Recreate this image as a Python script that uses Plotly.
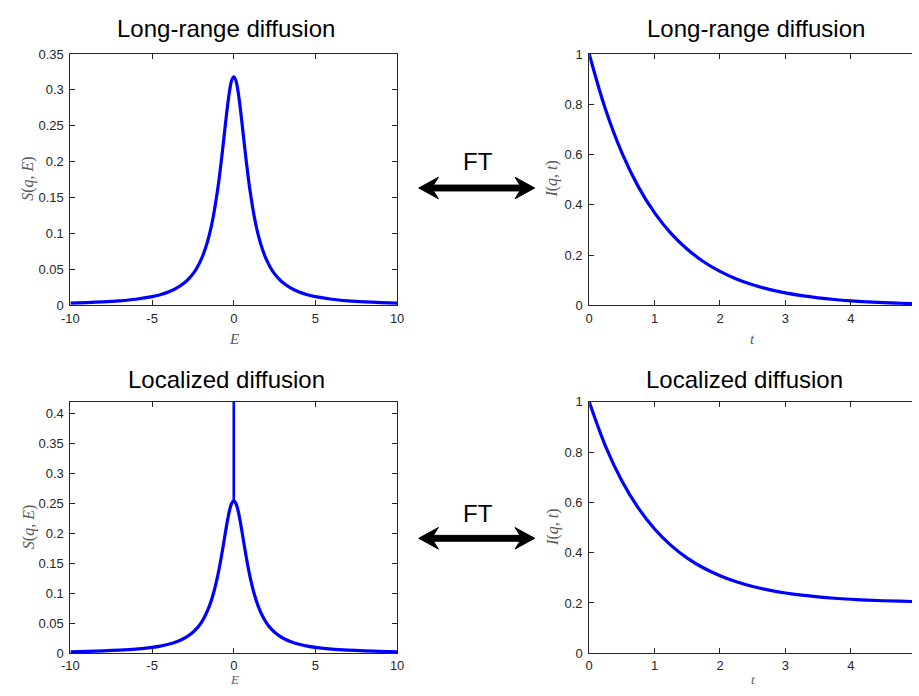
import plotly.graph_objects as go

# ---- data -------------------------------------------------------------
energy = [-10, -9, -8, -7, -6, -5, -4.5, -4, -3.5, -3, -2.75, -2.5, -2.25, -2, -1.75, -1.5,
          -1.25, -1, -0.875, -0.75, -0.625, -0.5, -0.375, -0.25, -0.125, 0,
          0.125, 0.25, 0.375, 0.5, 0.625, 0.75, 0.875, 1, 1.25, 1.5, 1.75, 2, 2.25, 2.5,
          2.75, 3, 3.5, 4, 4.5, 5, 6, 7, 8, 9, 10]

# Long-range diffusion: Lorentzian line shape
s_long = [0.0032, 0.0039, 0.0049, 0.0064, 0.0086, 0.0122, 0.0149, 0.0187, 0.0240, 0.0318,
          0.0372, 0.0439, 0.0525, 0.0637, 0.0784, 0.0979, 0.1242, 0.1592, 0.1802, 0.2037,
          0.2289, 0.2546, 0.2790, 0.2996, 0.3134, 0.3183,
          0.3134, 0.2996, 0.2790, 0.2546, 0.2289, 0.2037, 0.1802, 0.1592, 0.1242, 0.0979,
          0.0784, 0.0637, 0.0525, 0.0439, 0.0372, 0.0318, 0.0240, 0.0187, 0.0149, 0.0122,
          0.0086, 0.0064, 0.0049, 0.0039, 0.0032]

# Localized diffusion: weaker quasi-elastic Lorentzian plus an elastic spike at E = 0
s_local = [0.0025, 0.0031, 0.0039, 0.0051, 0.0069, 0.0098, 0.0119, 0.0150, 0.0192, 0.0255,
           0.0298, 0.0351, 0.0420, 0.0509, 0.0627, 0.0783, 0.0994, 0.1273, 0.1442, 0.1630,
           0.1831, 0.2037, 0.2232, 0.2397, 0.2507, 0.2546,
           0.2507, 0.2397, 0.2232, 0.2037, 0.1831, 0.1630, 0.1442, 0.1273, 0.0994, 0.0783,
           0.0627, 0.0509, 0.0420, 0.0351, 0.0298, 0.0255, 0.0192, 0.0150, 0.0119, 0.0098,
           0.0069, 0.0051, 0.0039, 0.0031, 0.0025]
spike_e = [0, 0]
spike_s = [0.2546, 0.5]

time = [0, 0.25, 0.5, 0.75, 1, 1.25, 1.5, 1.75, 2, 2.25, 2.5, 2.75, 3, 3.25, 3.5, 3.75,
        4, 4.25, 4.5, 4.75, 5]
i_long = [1.0, 0.7788, 0.6065, 0.4724, 0.3679, 0.2865, 0.2231, 0.1738, 0.1353, 0.1054,
          0.0821, 0.0639, 0.0498, 0.0388, 0.0302, 0.0235, 0.0183, 0.0143, 0.0111, 0.0087,
          0.0067]
i_local = [1.0, 0.8230, 0.6852, 0.5779, 0.4943, 0.4292, 0.3785, 0.3390, 0.3083, 0.2843,
           0.2657, 0.2511, 0.2398, 0.2310, 0.2242, 0.2188, 0.2147, 0.2114, 0.2089, 0.2070,
           0.2054]

titles = ["Long-range diffusion", "Long-range diffusion",
          "Localized diffusion", "Localized diffusion"]
e_ticks = [-10, -5, 0, 5, 10]
e_ticktext = ["-10", "-5", "0", "5", "10"]

# ---- layout helpers ---------------------------------------------------
W, H = 919, 696
INK = "#262626"
BLUE = "#0000ff"


def px_x(p):
    return p / W


def px_y(p):
    return 1 - p / H


left_dom = [px_x(62.5), px_x(395)]
right_dom = [px_x(590.5), 1.0]
top_dom = [px_y(305), px_y(48)]
bot_dom = [px_y(660.5), px_y(403.5)]

fig = go.Figure()

line = dict(color=BLUE, width=3.2, shape="spline", smoothing=1.0)

fig.add_trace(go.Scatter(x=energy, y=s_long, mode="lines", line=line,
                         xaxis="x", yaxis="y", showlegend=False))
fig.add_trace(go.Scatter(x=time, y=i_long, mode="lines", line=line,
                         xaxis="x2", yaxis="y2", showlegend=False))
fig.add_trace(go.Scatter(x=energy, y=s_local, mode="lines", line=line,
                         xaxis="x3", yaxis="y3", showlegend=False))
fig.add_trace(go.Scatter(x=spike_e, y=spike_s, mode="lines",
                         line=dict(color=BLUE, width=2.6),
                         xaxis="x3", yaxis="y3", showlegend=False))
fig.add_trace(go.Scatter(x=time, y=i_local, mode="lines", line=line,
                         xaxis="x4", yaxis="y4", showlegend=False))

tickfont = dict(family="Liberation Sans, Arial, sans-serif", size=13, color=INK)
common = dict(showline=True, linecolor=INK, linewidth=1, ticks="inside", ticklen=5,
              tickcolor=INK, tickwidth=1, showgrid=False, zeroline=False,
              tickfont=tickfont)
xtop = dict(ticklabelstandoff=1, **common)
xbot = dict(ticklabelstandoff=0, **common)
ycommon = dict(ticklabelstandoff=3, **common)

r_max = (W - 590.5) / ((856.7 - 590.5) / 4)

fig.update_layout(
    width=W, height=H,
    margin=dict(l=0, r=0, t=0, b=0),
    paper_bgcolor="white", plot_bgcolor="white",
    xaxis=dict(domain=left_dom, anchor="y", range=[-10, 10], tickvals=e_ticks,
               ticktext=e_ticktext, mirror="ticks", **xtop),
    yaxis=dict(domain=top_dom, anchor="x", range=[0, 0.35], dtick=0.05,
               mirror="ticks", **ycommon),
    xaxis2=dict(domain=right_dom, anchor="y2", range=[0, r_max], dtick=1,
                mirror="ticks", **xtop),
    yaxis2=dict(domain=top_dom, anchor="x2", range=[0, 1], dtick=0.2, **ycommon),
    xaxis3=dict(domain=left_dom, anchor="y3", range=[-10, 10], tickvals=e_ticks,
                ticktext=e_ticktext, mirror="ticks", **xbot),
    yaxis3=dict(domain=bot_dom, anchor="x3", range=[0, 0.42], dtick=0.05,
                mirror="ticks", **ycommon),
    xaxis4=dict(domain=right_dom, anchor="y4", range=[0, r_max], dtick=1,
                mirror="ticks", **xbot),
    yaxis4=dict(domain=bot_dom, anchor="x4", range=[0, 1], dtick=0.2, **ycommon),
)

annotations = []
title_font = dict(family="Liberation Sans, Arial, sans-serif", size=24, color="black")
title_pos = [(221, 22), (760, 22), (221, 381), (749, 381)]
for text, (cx, cy) in zip(titles, title_pos):
    annotations.append(dict(text=text, x=px_x(cx), y=px_y(cy), xref="paper", yref="paper",
                            showarrow=False, font=title_font,
                            xanchor="center", yanchor="middle"))

label_font = dict(family="Liberation Serif, Times New Roman, serif", size=16, color="#595959")
s_label = "<i>S</i>(<i>q</i>, <i>E</i>)"
i_label = "<i>I</i>(<i>q</i>, <i>t</i>)"
for text, cx, cy in [(s_label, 20, 176), (i_label, 553, 176),
                     (s_label, 20, 532), (i_label, 553, 532)]:
    annotations.append(dict(text=text, x=px_x(cx), y=px_y(cy), xref="paper", yref="paper",
                            showarrow=False, font=label_font, textangle=-90,
                            xanchor="center", yanchor="middle"))

# x-axis labels; the lower row sits against the bottom edge of the page
x_label_font = dict(family="Liberation Serif, Times New Roman, serif", size=15, color="#595959")
x_label_small = dict(family="Liberation Serif, Times New Roman, serif", size=13, color="#595959")
for text, cx in [("<i>E</i>", 229), ("<i>t</i>", 757)]:
    annotations.append(dict(text=text, x=px_x(cx), y=px_y(339), xref="paper", yref="paper",
                            showarrow=False, font=x_label_font,
                            xanchor="center", yanchor="middle"))
    annotations.append(dict(text=text, x=px_x(cx), y=px_y(696), xref="paper", yref="paper",
                            showarrow=False, font=x_label_small, borderpad=0,
                            xanchor="center", yanchor="bottom"))

ft_font = dict(family="Liberation Sans, Arial, sans-serif", size=24, color="black")
for cy in (158, 518):
    annotations.append(dict(text="FT", x=px_x(477), y=px_y(cy), xref="paper", yref="paper",
                            showarrow=False, font=ft_font,
                            xanchor="center", yanchor="middle"))
fig.update_layout(annotations=annotations)


# double-headed "FT" arrows drawn as filled polygons in paper space
def double_arrow(y0, x_left=417, x_right=535):
    pts = [(x_left, y0), (x_left + 20, y0 - 11), (x_left + 15, y0 - 3),
           (x_right - 15, y0 - 3), (x_right - 20, y0 - 11), (x_right, y0),
           (x_right - 20, y0 + 11), (x_right - 15, y0 + 3),
           (x_left + 15, y0 + 3), (x_left + 20, y0 + 11)]
    path = "M " + " L ".join(f"{px_x(x):.5f},{px_y(y):.5f}" for x, y in pts) + " Z"
    return dict(type="path", path=path, xref="paper", yref="paper",
                fillcolor="black", line=dict(color="black", width=1))


fig.update_layout(shapes=[double_arrow(185), double_arrow(543)])

fig.write_html("out.html")
